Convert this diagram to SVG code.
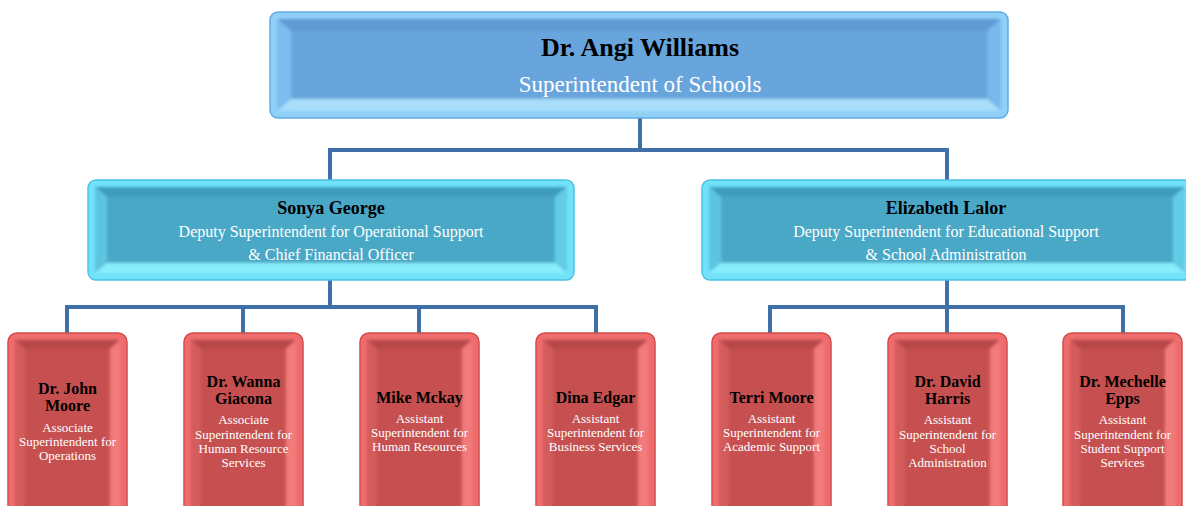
<svg xmlns="http://www.w3.org/2000/svg" width="1186" height="506" viewBox="0 0 1186 506">
<defs>
<filter id="soft" x="-5%" y="-5%" width="110%" height="110%"><feGaussianBlur stdDeviation="1.6"/></filter>
<g id="redbox">
<rect x="0" y="0" width="119" height="190" rx="9" fill="#ee6c6c" stroke="#d24c4c" stroke-width="1.5"/>
<g filter="url(#soft)">
<polygon points="7,7 112,7 102,16 17,16" fill="#b84646"/>
<polygon points="7,7 17,16 17,180 7,188" fill="#d45c5c"/>
<polygon points="112,7 102,16 102,180 112,188" fill="#f27a7a"/>
<polygon points="7,188 17,180 102,180 112,188" fill="#f88686"/>
<rect x="17" y="16" width="85" height="164" fill="#c65050"/>
</g>
</g>
</defs>
<style>
.t{font-family:"Liberation Serif","Times New Roman",serif;text-anchor:middle}
.n{font-weight:bold;fill:#000}
.s{fill:#ffffff}
.c{stroke:#3f70a8;stroke-width:4;fill:none;stroke-linecap:square}
</style>
<rect width="1186" height="506" fill="#ffffff"/>
<g id="connectors">
<path class="c" d="M640 118V150M330 150H947M330 150V181M947 150V181"/>
<path class="c" d="M330 280V307M67 307H596M67 307V333M243 307V333M419 307V333M596 307V333"/>
<path class="c" d="M947 280V307M770 307H1123M770 307V333M947 307V333M1123 307V333"/>
</g>
<g id="superintendent">
<rect x="270" y="12" width="738" height="106" rx="8" fill="#90d0f8" stroke="#62aae6" stroke-width="1.5"/>
<g filter="url(#soft)">
<polygon points="277,19 1001,19 987,31 291,31" fill="#5e9ad4"/>
<polygon points="277,19 291,31 291,99 277,111" fill="#7cbcee"/>
<polygon points="1001,19 987,31 987,99 1001,111" fill="#78b8ea"/>
<polygon points="277,111 291,99 987,99 1001,111" fill="#a8def9"/>
<rect x="291" y="31" width="696" height="68" fill="#68a5dc"/>
</g>
<text class="t n" x="640" y="56" font-size="26">Dr. Angi Williams</text>
<text class="t s" x="640" y="92" font-size="23">Superintendent of Schools</text>
</g>
<g id="deputy-operational">
<rect x="88" y="180" width="486" height="100" rx="8" fill="#72e2fa" stroke="#4cc2e2" stroke-width="1.5"/>
<g filter="url(#soft)">
<polygon points="95,187 567,187 555,197 107,197" fill="#3e9cbe"/>
<polygon points="95,187 107,197 107,263 95,273" fill="#5cc4e0"/>
<polygon points="567,187 555,197 555,263 567,273" fill="#62cce6"/>
<polygon points="95,273 107,263 555,263 567,273" fill="#88eefc"/>
<rect x="107" y="197" width="448" height="66" fill="#4aa8c6"/>
</g>
<text class="t n" x="331" y="214" font-size="18">Sonya George</text>
<text class="t s" x="331" y="237" font-size="16">Deputy Superintendent for Operational Support</text>
<text class="t s" x="331" y="260" font-size="16">&amp; Chief Financial Officer</text>
</g>
<g id="deputy-educational">
<rect x="702" y="180" width="490" height="100" rx="8" fill="#72e2fa" stroke="#4cc2e2" stroke-width="1.5"/>
<g filter="url(#soft)">
<polygon points="709,187 1185,187 1173,197 721,197" fill="#3e9cbe"/>
<polygon points="709,187 721,197 721,263 709,273" fill="#5cc4e0"/>
<polygon points="1185,187 1173,197 1173,263 1185,273" fill="#62cce6"/>
<polygon points="709,273 721,263 1173,263 1185,273" fill="#88eefc"/>
<rect x="721" y="197" width="452" height="66" fill="#4aa8c6"/>
</g>
<text class="t n" x="946" y="214" font-size="18">Elizabeth Lalor</text>
<text class="t s" x="946" y="237" font-size="16">Deputy Superintendent for Educational Support</text>
<text class="t s" x="946" y="260" font-size="16">&amp; School Administration</text>
</g>
<g id="john-moore">
<use href="#redbox" x="8" y="333"/>
<text class="t n" x="67.5" y="394" font-size="16">Dr. John</text>
<text class="t n" x="67.5" y="411" font-size="16">Moore</text>
<text class="t s" x="67.5" y="432" font-size="13">Associate</text>
<text class="t s" x="67.5" y="446" font-size="13">Superintendent for</text>
<text class="t s" x="67.5" y="460" font-size="13">Operations</text>
</g>
<g id="wanna-giacona">
<use href="#redbox" x="184" y="333"/>
<text class="t n" x="243.5" y="387" font-size="16">Dr. Wanna</text>
<text class="t n" x="243.5" y="404" font-size="16">Giacona</text>
<text class="t s" x="243.5" y="424" font-size="13">Associate</text>
<text class="t s" x="243.5" y="439" font-size="13">Superintendent for</text>
<text class="t s" x="243.5" y="453" font-size="13">Human Resource</text>
<text class="t s" x="243.5" y="467" font-size="13">Services</text>
</g>
<g id="mike-mckay">
<use href="#redbox" x="360" y="333"/>
<text class="t n" x="419.5" y="403" font-size="16">Mike Mckay</text>
<text class="t s" x="419.5" y="423" font-size="13">Assistant</text>
<text class="t s" x="419.5" y="437" font-size="13">Superintendent for</text>
<text class="t s" x="419.5" y="451" font-size="13">Human Resources</text>
</g>
<g id="dina-edgar">
<use href="#redbox" x="536" y="333"/>
<text class="t n" x="595.5" y="403" font-size="16">Dina Edgar</text>
<text class="t s" x="595.5" y="423" font-size="13">Assistant</text>
<text class="t s" x="595.5" y="437" font-size="13">Superintendent for</text>
<text class="t s" x="595.5" y="451" font-size="13">Business Services</text>
</g>
<g id="terri-moore">
<use href="#redbox" x="712" y="333"/>
<text class="t n" x="771.5" y="403" font-size="16">Terri Moore</text>
<text class="t s" x="771.5" y="423" font-size="13">Assistant</text>
<text class="t s" x="771.5" y="437" font-size="13">Superintendent for</text>
<text class="t s" x="771.5" y="451" font-size="13">Academic Support</text>
</g>
<g id="david-harris">
<use href="#redbox" x="888" y="333"/>
<text class="t n" x="947.5" y="387" font-size="16">Dr. David</text>
<text class="t n" x="947.5" y="404" font-size="16">Harris</text>
<text class="t s" x="947.5" y="424" font-size="13">Assistant</text>
<text class="t s" x="947.5" y="439" font-size="13">Superintendent for</text>
<text class="t s" x="947.5" y="453" font-size="13">School</text>
<text class="t s" x="947.5" y="467" font-size="13">Administration</text>
</g>
<g id="mechelle-epps">
<use href="#redbox" x="1063" y="333"/>
<text class="t n" x="1122.5" y="387" font-size="16">Dr. Mechelle</text>
<text class="t n" x="1122.5" y="404" font-size="16">Epps</text>
<text class="t s" x="1122.5" y="424" font-size="13">Assistant</text>
<text class="t s" x="1122.5" y="439" font-size="13">Superintendent for</text>
<text class="t s" x="1122.5" y="453" font-size="13">Student Support</text>
<text class="t s" x="1122.5" y="467" font-size="13">Services</text>
</g>
</svg>
